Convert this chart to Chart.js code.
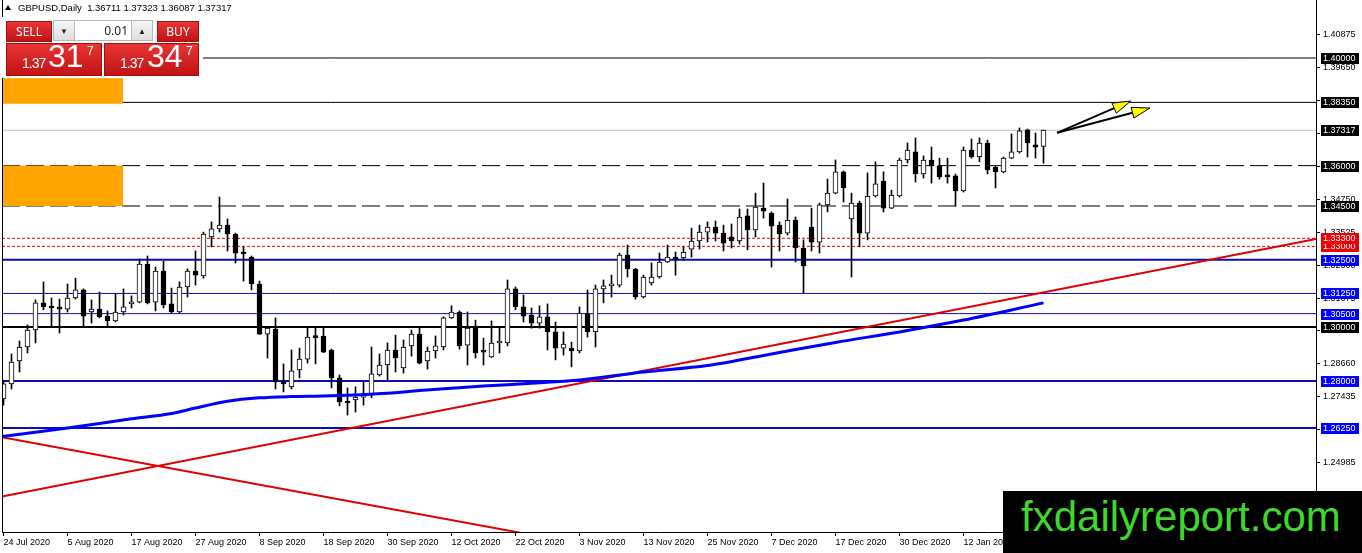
<!DOCTYPE html>
<html lang="en">
<head>
<meta charset="UTF-8">
<title>GBPUSD, Daily</title>
<script src="https://cdn.jsdelivr.net/npm/chart.js"></script>
<style>
  html, body { margin: 0; padding: 0; background: #fff; }
  #wrap { position: relative; width: 1362px; height: 553px; overflow: hidden; font-family: 'Liberation Sans', Arial, sans-serif; }
  #chart { position: absolute; left: 0; top: 0; }
  .abs { position: absolute; }
  #tri { left: 5px; top: 5px; width: 0; height: 0; border-left: 3px solid transparent; border-right: 3px solid transparent; border-bottom: 5px solid #000; }
  #hdr { left: 18px; top: 2px; font-size: 9.5px; line-height: 12px; color: #000; white-space: pre; }
  #panelBg { left: 0; top: 17px; width: 203px; height: 61px; background: #fff; }
  .red { background: linear-gradient(#e83434, #c11414); color: #fff; box-sizing: border-box; border: 1px solid #a80c0c; }
  .btn { height: 21px; top: 21px; font-family: 'Noto Sans', sans-serif; font-size: 12px; line-height: 19px; text-align: center; }
  #sell { left: 6px; width: 46px; }
  #buy { left: 157px; width: 42px; }
  #lot { left: 53px; top: 20px; width: 100px; height: 21px; box-sizing: border-box; border: 1px solid #b8b8b8; background: #fff; font-family: 'Noto Sans', sans-serif; }
  .spin { top: 0; width: 20px; height: 19px; background: linear-gradient(#f6f6f6, #dedede); font-size: 8px; line-height: 19px; text-align: center; color: #222; }
  #dn { left: 0; border-right: 1px solid #b8b8b8; }
  #up { right: 0; border-left: 1px solid #b8b8b8; }
  #lotVal { left: 21px; width: 53px; top: 0; text-align: right; font-size: 12px; line-height: 19px; color: #222; }
  .pbox { top: 43px; height: 33px; }
  #sellBox { left: 6px; width: 96px; }
  #buyBox { left: 104px; width: 95px; }
  .sm { font-size: 14px; letter-spacing: -1px; top: 12px; line-height: 14px; }
  .big { font-size: 32px; top: -4px; line-height: 32px; }
  .sup { font-size: 12px; top: 1px; line-height: 12px; }
  #wm { left: 1003px; top: 491px; width: 359px; height: 62px; background: #000; }
  #wmText { left: 18px; top: 5px; font-size: 42px; line-height: 42px; color: #3fd62e; white-space: nowrap; }
</style>
</head>
<body>
<div id="wrap">
  <canvas id="chart" width="1362" height="553"></canvas>
  <div id="tri" class="abs"></div>
  <div id="hdr" class="abs"></div>
  <div id="panelBg" class="abs"></div>
  <div id="sell" class="abs red btn">SELL</div>
  <div id="lot" class="abs">
    <div id="dn" class="abs spin">&#9660;</div>
    <div id="lotVal" class="abs">0.01</div>
    <div id="up" class="abs spin">&#9650;</div>
  </div>
  <div id="buy" class="abs red btn">BUY</div>
  <div id="sellBox" class="abs red pbox">
    <span class="abs sm" style="left:15px">1.37</span>
    <span class="abs big" style="left:41px">31</span>
    <span class="abs sup" style="left:80px">7</span>
  </div>
  <div id="buyBox" class="abs red pbox">
    <span class="abs sm" style="left:15px">1.37</span>
    <span class="abs big" style="left:42px">34</span>
    <span class="abs sup" style="left:81px">7</span>
  </div>
  <div id="wm" class="abs"><span id="wmText" class="abs">fxdailyreport.com</span></div>
</div>

<script>
// GBPUSD daily candles, 24 Jul 2020 .. 26 Jan 2021
const symbol = 'GBPUSD,Daily';

const open = [
  1.2733,1.2789,1.2874,1.2926,1.2989,1.3090,1.3075,1.3071,1.3067,1.3108,
  1.3138,1.3056,1.3067,1.3041,1.3023,1.3056,1.3086,1.3093,1.3234,1.3093,
  1.3208,1.3086,1.3056,1.3149,1.3208,1.3190,1.3335,1.3365,1.3379,1.3346,
  1.3275,1.3260,1.3160,1.2974,1.2993,1.2796,1.2778,1.2841,1.2881,1.2963,
  1.2967,1.2915,1.2811,1.2725,1.2729,1.2740,1.2748,1.2822,1.2859,1.2915,
  1.2848,1.2930,1.2974,1.2874,1.2911,1.2926,1.3034,1.3056,1.2933,1.3004,
  1.2911,1.2889,1.2941,1.2941,1.3142,1.3075,1.3045,1.3015,1.3038,1.2982,
  1.2922,1.2922,1.2911,1.3049,1.2982,1.3142,1.3153,1.3156,1.3268,1.3216,
  1.3112,1.3164,1.3186,1.3242,1.3260,1.3257,1.3290,1.3320,1.3353,1.3372,
  1.3349,1.3335,1.3320,1.3413,1.3361,1.3442,1.3424,1.3379,1.3349,1.3398,
  1.3294,1.3372,1.3316,1.3454,1.3498,1.3577,1.3402,1.3461,1.3349,1.3487,
  1.3543,1.3442,1.3487,1.3621,1.3651,1.3569,1.3621,1.3599,1.3565,1.3562,
  1.3506,1.3658,1.3632,1.3684,1.3595,1.3577,1.3628,1.3651,1.3733,1.3677,
  1.36711
];
const high = [
  1.2800,1.2900,1.2948,1.3008,1.3101,1.3168,1.3108,1.3104,1.3160,1.3182,
  1.3142,1.3101,1.3130,1.3060,1.3123,1.3142,1.3116,1.3253,1.3264,1.3223,
  1.3245,1.3145,1.3168,1.3216,1.3283,1.3353,1.3391,1.3483,1.3402,1.3349,
  1.3298,1.3264,1.3171,1.3000,1.3034,1.2863,1.2915,1.2922,1.2996,1.3000,
  1.3000,1.2918,1.2822,1.2774,1.2778,1.2796,1.2926,1.2900,1.2941,1.2970,
  1.2952,1.2989,1.2996,1.2926,1.2967,1.3038,1.3079,1.3060,1.3056,1.3026,
  1.2959,1.3023,1.3000,1.3175,1.3149,1.3119,1.3071,1.3079,1.3086,1.3019,
  1.2982,1.2944,1.3075,1.3138,1.3156,1.3175,1.3193,1.3275,1.3305,1.3218,
  1.3193,1.3238,1.3275,1.3305,1.3279,1.3298,1.3368,1.3379,1.3391,1.3394,
  1.3379,1.3383,1.3439,1.3439,1.3498,1.3535,1.3428,1.3391,1.3476,1.3409,
  1.3324,1.3442,1.3461,1.3550,1.3621,1.3580,1.3498,1.3468,1.3573,1.3614,
  1.3577,1.3509,1.3628,1.3684,1.3703,1.3636,1.3669,1.3628,1.3628,1.3569,
  1.3669,1.3699,1.3703,1.3695,1.3599,1.3632,1.3718,1.3740,1.3736,1.3721,
  1.37323
];
const low = [
  1.2710,1.2770,1.2833,1.2904,1.2941,1.3064,1.3000,1.2978,1.3056,1.3104,
  1.3000,1.3015,1.3034,1.3004,1.3020,1.3045,1.3071,1.3090,1.3086,1.3060,
  1.3071,1.3052,1.3052,1.3112,1.3156,1.3182,1.3298,1.3353,1.3283,1.3238,
  1.3171,1.3138,1.2972,1.2885,1.2770,1.2759,1.2770,1.2811,1.2866,1.2863,
  1.2905,1.2774,1.2707,1.2673,1.2684,1.2710,1.2737,1.2818,1.2803,1.2833,
  1.2829,1.2892,1.2863,1.2844,1.2885,1.2915,1.3032,1.2918,1.2859,1.2885,
  1.2859,1.2887,1.2904,1.2930,1.3064,1.3019,1.2996,1.2996,1.2915,1.2878,
  1.2896,1.2852,1.2904,1.2963,1.2926,1.3090,1.3112,1.3149,1.3186,1.3104,
  1.3108,1.3156,1.3182,1.3240,1.3193,1.3249,1.3260,1.3290,1.3316,1.3320,
  1.3283,1.3294,1.3309,1.3287,1.3335,1.3405,1.3223,1.3283,1.3342,1.3242,
  1.3127,1.3283,1.3275,1.3428,1.3495,1.3465,1.3186,1.3298,1.3324,1.3483,
  1.3428,1.3440,1.3483,1.3610,1.3539,1.3554,1.3535,1.3550,1.3535,1.3450,
  1.3502,1.3628,1.3614,1.3569,1.3517,1.3573,1.3626,1.3647,1.3632,1.3628,
  1.36087
];
const close = [
  1.2789,1.2870,1.2926,1.2989,1.3090,1.3075,1.3071,1.3067,1.3108,1.3138,
  1.3041,1.3067,1.3038,1.3023,1.3056,1.3075,1.3093,1.3234,1.3090,1.3208,
  1.3082,1.3056,1.3149,1.3208,1.3193,1.3346,1.3365,1.3379,1.3346,1.3275,
  1.3272,1.3160,1.2974,1.2996,1.2796,1.2789,1.2837,1.2881,1.2963,1.2961,
  1.2907,1.2811,1.2722,1.2718,1.2740,1.2744,1.2826,1.2859,1.2915,1.2885,
  1.2926,1.2974,1.2866,1.2911,1.2930,1.3034,1.3056,1.2930,1.2996,1.2904,
  1.2907,1.2941,1.2942,1.3142,1.3075,1.3041,1.3015,1.3038,1.2982,1.2922,
  1.2937,1.2911,1.3052,1.2982,1.3142,1.3153,1.3156,1.3268,1.3216,1.3112,
  1.3186,1.3186,1.3242,1.3260,1.3253,1.3279,1.3320,1.3353,1.3372,1.3349,
  1.3312,1.3320,1.3409,1.3361,1.3446,1.3431,1.3375,1.3346,1.3398,1.3294,
  1.3227,1.3316,1.3454,1.3498,1.3577,1.3517,1.3461,1.3349,1.3487,1.3532,
  1.3442,1.3491,1.3621,1.3658,1.3569,1.3621,1.3599,1.3558,1.3558,1.3506,
  1.3658,1.3632,1.3684,1.3584,1.3577,1.3628,1.3651,1.3729,1.3684,1.3669,
  1.37317
];

// time axis: one label every 8 bars
const xTickIdx = [0, 8, 16, 24, 32, 40, 48, 56, 64, 72, 80, 88, 96, 104, 112, 120, 128];
const xTickLabels = ['24 Jul 2020', '5 Aug 2020', '17 Aug 2020', '27 Aug 2020', '8 Sep 2020',
  '18 Sep 2020', '30 Sep 2020', '12 Oct 2020', '22 Oct 2020', '3 Nov 2020', '13 Nov 2020',
  '25 Nov 2020', '7 Dec 2020', '17 Dec 2020', '30 Dec 2020', '12 Jan 2021', '22 Jan 2021'];

// price axis ticks
const yTickVals = [1.40875, 1.39650, 1.38425, 1.37200, 1.35975, 1.34750, 1.33525,
  1.32300, 1.31075, 1.29885, 1.28660, 1.27435, 1.26210, 1.24985];

// horizontal levels
const blackLevels = [1.40000, 1.38350];
const bidLevel = 1.37317;
const dashedLevels = [1.36000, 1.34500];
const redDotLevels = [1.33300, 1.33000];
const blueLevels = [1.32500, 1.31250, 1.30500, 1.28000, 1.26250];
const pivotLevel = 1.30000;

// moving average (bar index / price)
const maIdx = [-0.1875, 8, 16, 21, 24, 28, 32, 36, 40, 44, 48, 52, 56, 60, 66, 72, 80, 88, 96, 104, 112, 120, 130];
const maVal = [1.2593, 1.2625, 1.2659, 1.2679, 1.2699, 1.2724, 1.2737, 1.2742, 1.2744, 1.2748, 1.2754, 1.2764,
  1.2773, 1.2781, 1.2791, 1.2803, 1.2833, 1.2857, 1.2900, 1.2943, 1.2982, 1.3026, 1.3090];

// trend lines (bar index / price)
const trendUpIdx = [-0.1875, 164.0625];
const trendUpVal = [1.2370, 1.3327];
const trendDownIdx = [-0.1875, 66];
const trendDownVal = [1.2591, 1.2228];

// orange zones (bar index / price)
const zoneIdx = [-0.06, 14.94];
const zoneHigh = [1.3925, 1.3600];
const zoneLow = [1.3830, 1.3450];

// arrows: start and tip (bar index / price)
const arrowFromIdx = [131.7, 131.7];
const arrowFromVal = [1.3722, 1.3722];
const arrowToIdx = [140.9, 143.3];
const arrowToVal = [1.3840, 1.3814];

const X_MIN = -0.1875, X_MAX = 164.0625;
const Y_MIN = 1.22385, Y_MAX = 1.42155;

const n = close.length;
const last = n - 1;
document.getElementById('hdr').textContent = symbol + '  ' +
  [open[last], high[last], low[last], close[last]].map(v => v.toFixed(5)).join(' ');

const bodies = open.map((o, i) => ({ x: i, y: [o, close[i]] }));
const wicks = low.map((l, i) => ({ x: i, y: [l, high[i]] }));
const bodyColors = open.map((o, i) => close[i] >= o ? '#ffffff' : '#000000');

function hLine(v, color, width, dash) {
  return {
    type: 'line', order: 5, data: [{ x: X_MIN, y: v }, { x: X_MAX, y: v }],
    borderColor: color, borderWidth: width, borderDash: dash || [], pointRadius: 0, clip: 0
  };
}

const lineSets = [];
blackLevels.forEach(v => lineSets.push(hLine(v, '#000000', 1)));
lineSets.push(hLine(bidLevel, '#c0c0c0', 1));
dashedLevels.forEach(v => lineSets.push(hLine(v, '#000000', 1, [18, 6])));
redDotLevels.forEach(v => lineSets.push(hLine(v, '#e00000', 1, [3, 2])));
const blueWidths = [2, 1, 1, 2, 2];
blueLevels.forEach((v, i) => lineSets.push(hLine(v, '#0c0cb4', blueWidths[i])));
lineSets.push(hLine(pivotLevel, '#000000', 2));

// tags on the price axis
const tagGroups = [
  { vals: [blackLevels[0], blackLevels[1], bidLevel, dashedLevels[0], dashedLevels[1], pivotLevel], bg: '#000000' },
  { vals: blueLevels, bg: '#0000ff' },
  { vals: [redDotLevels[1], redDotLevels[0]], bg: '#ee0000' }
];

const overlay = {
  id: 'overlay',
  afterDatasetsDraw(chart) {
    const { ctx, chartArea: a, scales: { x, y } } = chart;
    ctx.save();
    ctx.beginPath();
    ctx.rect(a.left, a.top, a.right - a.left, a.bottom - a.top);
    ctx.clip();
    // orange zones
    ctx.fillStyle = '#ffa500';
    zoneHigh.forEach((h, k) => {
      const x0 = x.getPixelForValue(zoneIdx[0]), x1 = x.getPixelForValue(zoneIdx[1]);
      const y0 = y.getPixelForValue(h), y1 = y.getPixelForValue(zoneLow[k]);
      ctx.fillRect(x0, y0, x1 - x0, y1 - y0);
    });
    // arrows
    arrowToIdx.forEach((ti, k) => {
      const x0 = x.getPixelForValue(arrowFromIdx[k]), y0 = y.getPixelForValue(arrowFromVal[k]);
      const x1 = x.getPixelForValue(ti), y1 = y.getPixelForValue(arrowToVal[k]);
      const ang = Math.atan2(y1 - y0, x1 - x0);
      const L = 18, W = 5.5;
      const bx = x1 - L * Math.cos(ang), by = y1 - L * Math.sin(ang);
      ctx.strokeStyle = '#000';
      ctx.lineWidth = 2;
      ctx.beginPath();
      ctx.moveTo(x0, y0);
      ctx.lineTo(bx, by);
      ctx.stroke();
      ctx.beginPath();
      ctx.moveTo(x1, y1);
      ctx.lineTo(bx + W * Math.sin(ang), by - W * Math.cos(ang));
      ctx.lineTo(bx - W * Math.sin(ang), by + W * Math.cos(ang));
      ctx.closePath();
      ctx.fillStyle = '#ffff00';
      ctx.fill();
      ctx.lineWidth = 1;
      ctx.stroke();
    });
    ctx.restore();
  },
  afterDraw(chart) {
    const { ctx, chartArea: a, scales: { y } } = chart;
    ctx.save();
    // left frame line
    ctx.strokeStyle = '#000';
    ctx.lineWidth = 1;
    ctx.beginPath();
    ctx.moveTo(a.left + 0.5, a.top);
    ctx.lineTo(a.left + 0.5, a.bottom);
    ctx.stroke();
    // level tags
    ctx.font = '9px "Liberation Sans", Arial, sans-serif';
    ctx.textBaseline = 'middle';
    ctx.textAlign = 'left';
    tagGroups.forEach(g => {
      g.vals.forEach(v => {
        const py = Math.round(y.getPixelForValue(v));
        ctx.fillStyle = g.bg;
        ctx.fillRect(a.right + 5, py - 5, 38, 11);
        ctx.fillStyle = '#ffffff';
        ctx.fillText(v.toFixed(5), a.right + 7, py + 0.5);
      });
    });
    ctx.restore();
  }
};

new Chart(document.getElementById('chart'), {
  type: 'bar',
  data: {
    datasets: [
      {
        type: 'line', order: 0, data: maIdx.map((v, i) => ({ x: v, y: maVal[i] })),
        borderColor: '#0000ff', borderWidth: 3, pointRadius: 0, cubicInterpolationMode: 'monotone', clip: 0
      },
      {
        type: 'line', order: 0, data: trendUpIdx.map((v, i) => ({ x: v, y: trendUpVal[i] })),
        borderColor: '#e00000', borderWidth: 2, pointRadius: 0, clip: 0
      },
      {
        type: 'line', order: 0, data: trendDownIdx.map((v, i) => ({ x: v, y: trendDownVal[i] })),
        borderColor: '#e00000', borderWidth: 2, pointRadius: 0, clip: 0
      },
      {
        order: 1, data: bodies, grouped: false, barThickness: 5, minBarLength: 2,
        backgroundColor: bodyColors, borderColor: '#000000', borderWidth: 1, borderSkipped: false
      },
      {
        order: 2, data: wicks, grouped: false, barThickness: 1,
        backgroundColor: '#000000', borderWidth: 0
      },
      ...lineSets
    ]
  },
  options: {
    responsive: false,
    animation: false,
    events: [],
    layout: { padding: { left: 2, top: 0, right: 0, bottom: 0 } },
    plugins: { legend: { display: false }, tooltip: { enabled: false } },
    scales: {
      x: {
        type: 'linear', min: X_MIN, max: X_MAX, bounds: 'data', offset: false,
        grid: { drawOnChartArea: false, tickLength: 4, color: '#000', offset: false },
        border: { display: true, color: '#000' },
        ticks: {
          autoSkip: false, maxRotation: 0, minRotation: 0, align: 'start', padding: 1, color: '#000',
          font: { family: 'Liberation Sans', size: 9 },
          callback: (v, i) => xTickLabels[i]
        },
        afterBuildTicks: s => { s.ticks = xTickIdx.map(v => ({ value: v })); },
        afterFit: s => { s.height = 21; s.paddingLeft = 0; s.paddingRight = 0; }
      },
      y: {
        type: 'linear', position: 'right', min: Y_MIN, max: Y_MAX, bounds: 'data', beginAtZero: false,
        grid: { drawOnChartArea: false, tickLength: 4, color: '#000' },
        border: { display: true, color: '#000' },
        ticks: {
          padding: 3, color: '#000', font: { family: 'Liberation Sans', size: 9 },
          callback: v => v.toFixed(5)
        },
        afterBuildTicks: s => { s.ticks = yTickVals.map(v => ({ value: v })); },
        afterFit: s => { s.width = 46; s.paddingTop = 0; s.paddingBottom = 0; }
      }
    }
  },
  plugins: [overlay]
});
</script>
</body>
</html>
